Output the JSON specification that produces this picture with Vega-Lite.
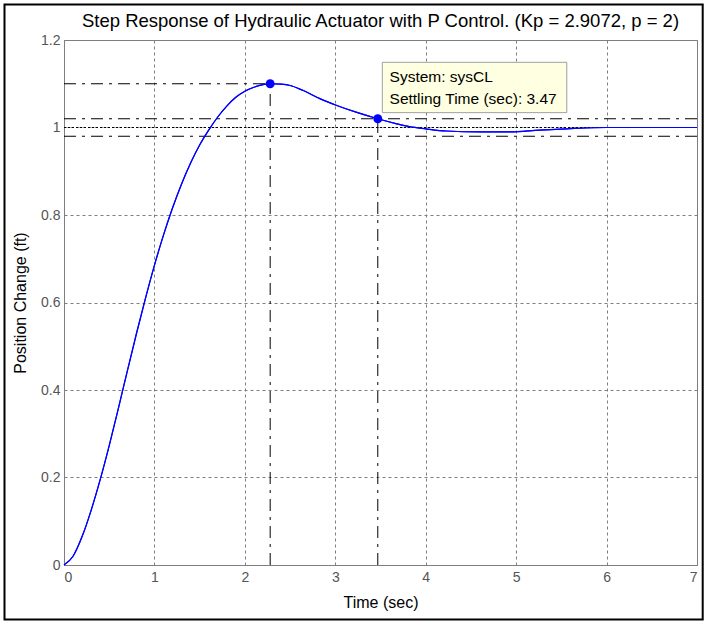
{
  "$schema": "https://vega.github.io/schema/vega-lite/v6.json",
  "width": 633,
  "height": 525,
  "autosize": {"type": "none"},
  "padding": {"left": 64, "top": 40, "right": 9, "bottom": 57},
  "background": "white",
  "title": {
    "text": "Step Response of Hydraulic Actuator with P Control. (Kp = 2.9072, p = 2)",
    "font": "Liberation Sans",
    "fontSize": 18.5,
    "fontWeight": "normal",
    "color": "#000000",
    "anchor": "middle",
    "frame": "group",
    "offset": -27
  },
  "datasets": {
    "curve": [
      {"t": 0, "y": 0}, {"t": 0.1, "y": 0.02}, {"t": 0.2, "y": 0.065}, {"t": 0.3, "y": 0.125},
      {"t": 0.4, "y": 0.195}, {"t": 0.5, "y": 0.273}, {"t": 0.6, "y": 0.357}, {"t": 0.7, "y": 0.443},
      {"t": 0.8, "y": 0.528}, {"t": 0.9, "y": 0.609}, {"t": 1.0, "y": 0.685}, {"t": 1.1, "y": 0.754},
      {"t": 1.2, "y": 0.816}, {"t": 1.3, "y": 0.871}, {"t": 1.4, "y": 0.919}, {"t": 1.5, "y": 0.96},
      {"t": 1.6, "y": 0.994}, {"t": 1.7, "y": 1.024}, {"t": 1.8, "y": 1.049}, {"t": 1.9, "y": 1.069},
      {"t": 2.0, "y": 1.083}, {"t": 2.1, "y": 1.092}, {"t": 2.2, "y": 1.098}, {"t": 2.28, "y": 1.1},
      {"t": 2.4, "y": 1.099}, {"t": 2.5, "y": 1.096}, {"t": 2.64, "y": 1.085}, {"t": 2.83, "y": 1.066},
      {"t": 3.01, "y": 1.051}, {"t": 3.23, "y": 1.035}, {"t": 3.47, "y": 1.02}, {"t": 3.67, "y": 1.009},
      {"t": 3.82, "y": 1.002}, {"t": 4.0, "y": 0.997}, {"t": 4.23, "y": 0.992}, {"t": 4.6, "y": 0.99},
      {"t": 4.93, "y": 0.99}, {"t": 5.26, "y": 0.994}, {"t": 5.56, "y": 0.997}, {"t": 6.0, "y": 1.0},
      {"t": 6.5, "y": 1.0}, {"t": 7.0, "y": 1.0}
    ],
    "markers": [
      {"t": 2.28, "y": 1.1, "name": "Peak"},
      {"t": 3.47, "y": 1.02, "name": "Settling"}
    ],
    "dashdot": [
      {"t": 0, "t2": 2.28, "y": 1.1, "y2": 1.1},
      {"t": 2.28, "t2": 2.28, "y": 0, "y2": 1.1},
      {"t": 3.47, "t2": 3.47, "y": 0, "y2": 1.02},
      {"t": 0, "t2": 7, "y": 1.02, "y2": 1.02},
      {"t": 0, "t2": 7, "y": 0.98, "y2": 0.98}
    ],
    "dotted": [
      {"t": 0, "t2": 7, "y": 1, "y2": 1}
    ],
    "box": [
      {"t": 3.52, "t2": 5.56, "y": 1.149, "y2": 1.034}
    ],
    "boxtext": [
      {"t": 3.6, "y": 1.115, "label": "System: sysCL"},
      {"t": 3.6, "y": 1.065, "label": "Settling Time (sec): 3.47"}
    ],
    "frame": [
      {"t": -0.658, "t2": 7.063, "y": 1.281, "y2": -0.1246}
    ]
  },
  "layer": [
    {
      "data": {"name": "frame"},
      "mark": {"type": "rect", "fillOpacity": 0, "stroke": "#000000", "strokeWidth": 2, "clip": false},
      "encoding": {
        "x": {"field": "t", "type": "quantitative"},
        "x2": {"field": "t2"},
        "y": {"field": "y", "type": "quantitative"},
        "y2": {"field": "y2"}
      }
    },
    {
      "data": {"name": "curve"},
      "mark": {"type": "line", "color": "#0000ff", "strokeWidth": 1.2, "interpolate": "monotone"},
      "encoding": {
        "x": {
          "field": "t", "type": "quantitative",
          "scale": {"domain": [0, 7], "nice": false, "zero": false},
          "axis": {"title": "Time (sec)", "values": [0, 1, 2, 3, 4, 5, 6, 7], "format": ".0f", "grid": true, "ticks": false, "labelPadding": 5, "titlePadding": 10}
        },
        "y": {
          "field": "y", "type": "quantitative",
          "scale": {"domain": [0, 1.2], "nice": false, "zero": false},
          "axis": {"title": "Position Change (ft)", "values": [0, 0.2, 0.4, 0.6, 0.8, 1, 1.2], "format": ".2~f", "grid": true, "ticks": false, "labelPadding": 4, "titlePadding": 12}
        }
      }
    },
    {
      "data": {"name": "dotted"},
      "mark": {"type": "rule", "color": "#000000", "strokeWidth": 1, "strokeDash": [2, 2]},
      "encoding": {
        "x": {"field": "t", "type": "quantitative"},
        "x2": {"field": "t2"},
        "y": {"field": "y", "type": "quantitative"},
        "y2": {"field": "y2"}
      }
    },
    {
      "data": {"name": "dashdot"},
      "mark": {"type": "rule", "color": "#000000", "strokeWidth": 1, "strokeDash": [12, 6, 3, 6]},
      "encoding": {
        "x": {"field": "t", "type": "quantitative"},
        "x2": {"field": "t2"},
        "y": {"field": "y", "type": "quantitative"},
        "y2": {"field": "y2"}
      }
    },
    {
      "data": {"name": "curve"},
      "mark": {"type": "line", "color": "#0000ff", "strokeWidth": 1.2, "interpolate": "monotone"},
      "encoding": {
        "x": {"field": "t", "type": "quantitative"},
        "y": {"field": "y", "type": "quantitative"}
      }
    },
    {
      "data": {"name": "markers"},
      "mark": {"type": "point", "filled": true, "color": "#0000ff", "opacity": 1, "size": 80},
      "encoding": {
        "x": {"field": "t", "type": "quantitative"},
        "y": {"field": "y", "type": "quantitative"}
      }
    },
    {
      "data": {"name": "box"},
      "mark": {"type": "rect", "fill": "#ffffe1", "stroke": "#a0a0a0", "strokeWidth": 1},
      "encoding": {
        "x": {"field": "t", "type": "quantitative"},
        "x2": {"field": "t2"},
        "y": {"field": "y", "type": "quantitative"},
        "y2": {"field": "y2"}
      }
    },
    {
      "data": {"name": "boxtext"},
      "mark": {"type": "text", "align": "left", "baseline": "middle", "font": "Liberation Sans", "fontSize": 15.5, "color": "#000000"},
      "encoding": {
        "x": {"field": "t", "type": "quantitative"},
        "y": {"field": "y", "type": "quantitative"},
        "text": {"field": "label"}
      }
    }
  ],
  "config": {
    "view": {"stroke": "#7f7f7f", "strokeWidth": 1},
    "axis": {
      "domainColor": "#7f7f7f",
      "gridColor": "#7f7f7f",
      "gridDash": [3, 3],
      "gridWidth": 1,
      "labelColor": "#555555",
      "labelFont": "Liberation Sans",
      "labelFontSize": 14,
      "titleFont": "Liberation Sans",
      "titleFontSize": 16,
      "titleFontWeight": "normal",
      "titleColor": "#000000"
    }
  }
}
